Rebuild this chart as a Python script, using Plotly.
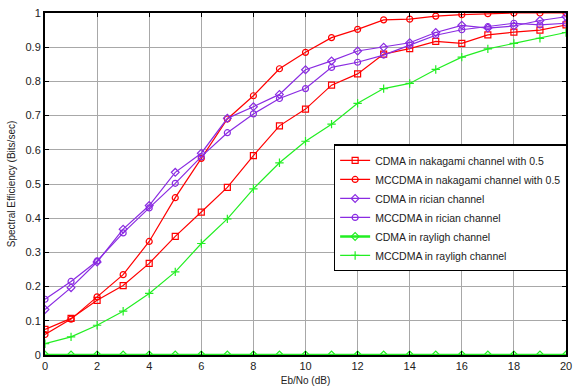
import plotly.graph_objects as go

ebno = list(range(0, 21))

cdma_nakagami = [0.075, 0.107, 0.160, 0.203, 0.268, 0.347, 0.418, 0.490, 0.583, 0.670, 0.719,
                 0.789, 0.822, 0.880, 0.896, 0.917, 0.911, 0.936, 0.944, 0.950, 0.965]
mccdma_nakagami = [0.060, 0.105, 0.170, 0.235, 0.332, 0.460, 0.575, 0.690, 0.758, 0.837, 0.885,
                   0.928, 0.952, 0.980, 0.982, 0.991, 0.995, 0.998, 1.0, 1.0, 1.0]
cdma_rician = [0.133, 0.197, 0.272, 0.368, 0.437, 0.534, 0.590, 0.692, 0.726, 0.762, 0.834,
               0.860, 0.889, 0.900, 0.913, 0.943, 0.964, 0.956, 0.962, 0.978, 0.989]
mccdma_rician = [0.163, 0.215, 0.275, 0.357, 0.430, 0.502, 0.580, 0.650, 0.705, 0.750, 0.779,
                 0.841, 0.856, 0.877, 0.906, 0.935, 0.951, 0.960, 0.970, 0.965, 0.970]
cdma_rayleigh = [0.0] * 21
mccdma_rayleigh = [0.033, 0.053, 0.087, 0.128, 0.180, 0.243, 0.326, 0.398, 0.486, 0.562, 0.625,
                   0.675, 0.736, 0.779, 0.794, 0.835, 0.871, 0.895, 0.911, 0.926, 0.943]

x_ticks = list(range(0, 21, 2))
y_ticks = [0, 0.1, 0.2, 0.3, 0.4, 0.5, 0.6, 0.7, 0.8, 0.9, 1]
y_ticklabels = ["0", "0.1", "0.2", "0.3", "0.4", "0.5", "0.6", "0.7", "0.8", "0.9", "1"]

names = ["CDMA in nakagami channel with 0.5", "MCCDMA in nakagami channel with 0.5",
         "CDMA in rician channel", "MCCDMA in rician channel",
         "CDMA in rayligh channel", "MCCDMA in rayligh channel"]

RED = "#ff0000"
PURPLE = "#8a2be2"
GREEN = "#22ee22"

series = [
    (cdma_nakagami, RED, "square-open", 6, 1.2),
    (mccdma_nakagami, RED, "circle-open", 6, 1.2),
    (cdma_rician, PURPLE, "diamond-open", 6, 1.2),
    (mccdma_rician, PURPLE, "circle-open", 6, 1.2),
    (cdma_rayleigh, GREEN, "diamond-open", 6, 2.5),
    (mccdma_rayleigh, GREEN, "cross-thin-open", 6, 1.2),
]

fig = go.Figure()
for (vals, col, sym, sz, lw), nm in zip(series, names):
    fig.add_trace(go.Scatter(
        x=ebno, y=vals, name=nm, mode="lines+markers",
        line=dict(color=col, width=lw),
        marker=dict(symbol=sym, size=sz, color=col, line=dict(color=col, width=1.2)),
    ))

font = "Liberation Sans, Arial, sans-serif"
fig.update_layout(
    width=574, height=388,
    margin=dict(l=45, r=2, t=13, b=33),
    paper_bgcolor="white", plot_bgcolor="white",
    font=dict(family=font, size=11, color="#222"),
    showlegend=True,
    legend=dict(
        x=0.554, xanchor="left", y=0.43, yanchor="middle",
        bgcolor="white", bordercolor="black", borderwidth=1.5,
        font=dict(family=font, size=10.5, color="#222"),
        tracegroupgap=0, itemwidth=30,
    ),
    xaxis=dict(
        range=[0, 20], tickvals=x_ticks,
        showgrid=True, gridcolor="#a8a8a8", gridwidth=1,
        showline=True, linecolor="black", linewidth=2, mirror="ticks",
        ticks="inside", ticklen=4, tickcolor="black",
        ticklabeloverflow="allow",
        zeroline=False,
        title=dict(text="Eb/No (dB)", font=dict(size=10), standoff=6),
        tickfont=dict(size=11),
    ),
    yaxis=dict(
        range=[0, 1], tickvals=y_ticks, ticktext=y_ticklabels,
        showgrid=True, gridcolor="#a8a8a8", gridwidth=1,
        showline=True, linecolor="black", linewidth=2, mirror="ticks",
        ticks="inside", ticklen=4, tickcolor="black",
        ticklabeloverflow="allow",
        zeroline=False,
        title=dict(text="Spectral Efficiency (Bits/sec)", font=dict(size=10), standoff=8),
        tickfont=dict(size=11),
    ),
)

fig.write_html("out.html")
